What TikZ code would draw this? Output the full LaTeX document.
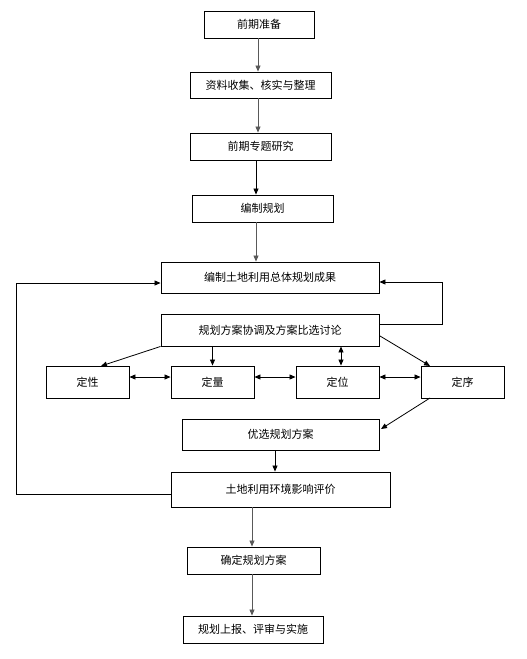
\documentclass[tikz,border=0pt]{standalone}
\usepackage{fontspec}
\setmainfont{Noto Sans CJK SC}
\usetikzlibrary{arrows.meta}
\begin{document}
\begin{tikzpicture}[x=1pt,y=-1pt,
  box/.style={draw,line width=0.9pt,inner sep=0pt,font=\fontsize{11}{13}\selectfont},
  arr/.style={line width=0.8pt,-{Triangle[length=6pt,width=5pt]}},
  darr/.style={line width=0.8pt,{Triangle[length=6pt,width=5pt]}-{Triangle[length=6pt,width=5pt]}},
  garr/.style={arr,draw=black!65},
  ln/.style={line width=0.8pt}]
\useasboundingbox (0,0) rectangle (527,659);
\node[box,minimum width=110pt,minimum height=27pt] (b1) at (259,24.5) {前期准备};
\node[box,minimum width=141pt,minimum height=26pt] (b2) at (260.5,85) {资料收集、核实与整理};
\node[box,minimum width=141pt,minimum height=27pt] (b3) at (260.5,146.5) {前期专题研究};
\node[box,minimum width=141pt,minimum height=27pt] (b4) at (262.5,208.5) {编制规划};
\node[box,minimum width=218pt,minimum height=31pt] (b5) at (270,277.5) {编制土地利用总体规划成果};
\node[box,minimum width=218pt,minimum height=32pt] (b6) at (270,330) {规划方案协调及方案比选讨论};
\node[box,minimum width=83pt,minimum height=32pt] (dx) at (87.5,382) {定性};
\node[box,minimum width=83pt,minimum height=32pt] (dl) at (212.5,382) {定量};
\node[box,minimum width=83pt,minimum height=32pt] (dw) at (337.5,382) {定位};
\node[box,minimum width=83pt,minimum height=32pt] (ds) at (462.5,382) {定序};
\node[box,minimum width=197pt,minimum height=31pt] (yx) at (280.5,434.5) {优选规划方案};
\node[box,minimum width=219pt,minimum height=35pt] (td) at (280.5,489.5) {土地利用环境影响评价};
\node[box,minimum width=133pt,minimum height=27pt] (qd) at (253.5,560.5) {确定规划方案};
\node[box,minimum width=140pt,minimum height=27pt] (sb) at (253,629.5) {规划上报、评审与实施};
% helper coordinates
\coordinate (x1) at (258,0);
\coordinate (x3) at (256,0);
\coordinate (x5) at (275,0);
\coordinate (x6) at (252,0);
\coordinate (xp) at (341,0);
\coordinate (L1) at (16,494);
\coordinate (L2) at (16,283);
\coordinate (R1) at (442,324);
\coordinate (R2) at (442,282);
\coordinate (q1) at (101,366);
\coordinate (s1) at (380,336);
\coordinate (s2) at (430,366);
\coordinate (s3) at (430,398);
\coordinate (s4) at (381,429);
\coordinate (h) at (0,377);
% main chain
\draw[garr] (x1 |- b1.south) -- (x1 |- b2.north);
\draw[garr] (x1 |- b2.south) -- (x1 |- b3.north);
\draw[arr] (x3 |- b3.south) -- (x3 |- b4.north);
\draw[garr] (x3 |- b4.south) -- (x3 |- b5.north);
\draw[arr] (x5 |- yx.south) -- (x5 |- td.north);
\draw[garr] (x6 |- td.south) -- (x6 |- qd.north);
\draw[garr] (x6 |- qd.south) -- (x6 |- sb.north);
% loops
\draw[arr] (L1 -| td.west) -- (L1) -- (L2) -- (L2 -| b5.west);
\draw[arr] (R1 -| b6.east) -- (R1) -- (R2) -- (R2 -| b5.east);
% branches
\draw[arr] (b6.south west) -- (q1);
\draw[arr] (b6.south -| dl.north) -- (dl.north);
\draw[darr] (xp |- b6.south) -- (xp |- dw.north);
\draw[arr] (s1) -- (s2);
\draw[arr] (s3) -- (s4);
\draw[darr] (h -| dx.east) -- (h -| dl.west);
\draw[darr] (h -| dl.east) -- (h -| dw.west);
\draw[darr] (h -| dw.east) -- (h -| ds.west);
\end{tikzpicture}
\end{document}
